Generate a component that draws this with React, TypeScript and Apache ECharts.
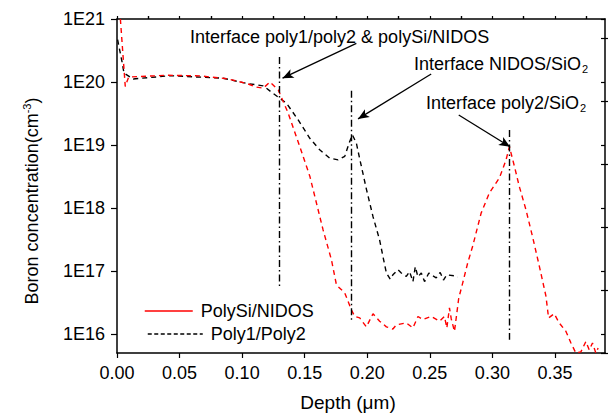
import React, { useEffect, useRef } from "react";
import * as echarts from "echarts";

// Depth (µm), boron concentration (cm^-3)
const polySiNidos: [number, number][] = [
  [0.0027, 1.0e21], [0.0066, 8.5e19], [0.0093, 1.2e20], [0.0399, 1.28e20], [0.0664, 1.25e20],
  [0.0877, 1.13e20], [0.1036, 9.5e19], [0.1116, 8.3e19], [0.1169, 8.0e19], [0.1222, 1.0e20],
  [0.1289, 7.5e19], [0.1368, 3.2e19], [0.1461, 9.4e18], [0.1541, 3.2e18], [0.1647, 4.5e17],
  [0.1714, 1.5e17], [0.1754, 6.0e16], [0.182, 4.5e16], [0.1874, 2.4e16], [0.19, 1.9e16],
  [0.194, 1.8e16], [0.1993, 1.3e16], [0.2046, 2.1e16], [0.2099, 1.6e16], [0.2153, 1.3e16],
  [0.2205, 1.2e16], [0.2232, 1.4e16], [0.2312, 1.5e16], [0.2365, 1.25e16], [0.2405, 1.9e16],
  [0.2444, 1.7e16], [0.2511, 1.9e16], [0.2578, 1.6e16], [0.2617, 1.9e16], [0.2636, 1.25e16],
  [0.2657, 2.6e16], [0.2671, 1.75e16], [0.2697, 1.1e16], [0.2731, 3.7e16], [0.2763, 6.5e16],
  [0.2803, 1.35e17], [0.2843, 2.5e17], [0.291, 8.3e17], [0.2976, 1.74e18], [0.3056, 3.0e18],
  [0.3109, 5.8e18], [0.3136, 9.4e18], [0.3176, 4.6e18], [0.3215, 2.2e18], [0.3269, 9.3e17],
  [0.3321, 3.5e17], [0.3375, 1.2e17], [0.3428, 4.0e16], [0.3449, 1.8e16], [0.3494, 2.1e16],
  [0.3534, 1.5e16], [0.3588, 1.1e16], [0.3628, 7.2e15], [0.3667, 5.0e15], [0.3707, 5.2e15],
  [0.3747, 7.6e15], [0.3774, 5.6e15], [0.38, 7.2e15], [0.3827, 5.0e15], [0.3845, 6.0e15],
];

const poly1Poly2: [number, number][] = [
  [0.0005, 4.7e20], [0.004, 2.1e20], [0.0056, 1.38e20], [0.013, 1.12e20], [0.0425, 1.26e20],
  [0.0848, 1.15e20], [0.1036, 9.5e19], [0.1169, 8.7e19], [0.1248, 6.6e19], [0.1355, 4.6e19],
  [0.1448, 2.5e19], [0.1541, 1.28e19], [0.162, 8.4e18], [0.17, 6.2e18], [0.1767, 5.8e18],
  [0.182, 6.6e18], [0.1855, 1.07e19], [0.1881, 1.45e19], [0.1913, 1.07e19], [0.194, 6.0e18],
  [0.1993, 2.0e18], [0.2046, 7.3e17], [0.2099, 3.1e17], [0.2131, 1.5e17], [0.2153, 9.3e16],
  [0.2184, 7.4e16], [0.2205, 8.7e16], [0.2245, 1.05e17], [0.2272, 9.3e16], [0.2312, 8.2e16],
  [0.2338, 9.8e16], [0.2365, 6.8e16], [0.2384, 1.17e17], [0.2405, 8.1e16], [0.2432, 9.3e16],
  [0.2458, 6.8e16], [0.2492, 9.3e16], [0.2511, 8.7e16], [0.2551, 7.8e16], [0.2583, 9.5e16],
  [0.2609, 7.2e16], [0.2636, 8.7e16], [0.2697, 8.4e16], [0.2723, 8.0e16],
];

const xMajorTicks = [0, 0.05, 0.1, 0.15, 0.2, 0.25, 0.3, 0.35];
const xMinorTicks = [0.025, 0.075, 0.125, 0.175, 0.225, 0.275, 0.325, 0.375];
const yMajorTicks = [1e16, 1e17, 1e18, 1e19, 1e20, 1e21];
const yMinorTicks = [5e15, 5e16, 5e17, 5e18, 5e19, 5e20];

// interface markers: depth, top, bottom
const interfaceLines: [number, number, number][] = [
  [0.13, 2.5e20, 5.7e16],
  [0.1874, 7.3e19, 1.58e16],
  [0.3136, 1.74e19, 8.1e15],
];
// arrows: from [x, y] to [x, y]
const arrows: [number, number, number, number][] = [
  [0.1913, 4.1e20, 0.1323, 1.15e20],
  [0.2511, 1.34e20, 0.1926, 2.6e19],
  [0.2731, 3.0e19, 0.3141, 9.4e18],
];

const FONT = "'Liberation Sans', Arial, sans-serif";
const X_MIN = 0, X_MAX = 0.39, Y_MIN = 5e15, Y_MAX = 1.001e21;

export default function App() {
  const ref = useRef<HTMLDivElement>(null);
  useEffect(() => {
    if (!ref.current) return;
    const chart = echarts.init(ref.current, undefined, { renderer: "svg" });
    const axisLine = { show: true, onZero: false, lineStyle: { color: "#000", width: 1.5 } };
    const noLine = { show: false, onZero: false };
    const tickStyle = { color: "#000", width: 1.2 };
    const option: any = {
      animation: false,
      backgroundColor: "#fff",
      grid: { left: 117, right: 4, top: 19, bottom: 60, containLabel: false },
      xAxis: [
        {
          type: "value", min: X_MIN, max: X_MAX, position: "bottom",
          axisLine, splitLine: { show: false },
          axisTick: { show: true, inside: false, length: 5, customValues: xMajorTicks, lineStyle: tickStyle },
          axisLabel: { customValues: xMajorTicks, formatter: (v: number) => v.toFixed(2), fontSize: 18, fontFamily: FONT, color: "#000", margin: 11 },
        },
        {
          type: "value", min: X_MIN, max: X_MAX, position: "top",
          axisLine, splitLine: { show: false },
          axisTick: { show: true, length: 3, customValues: [...xMajorTicks, ...xMinorTicks], lineStyle: tickStyle },
          axisLabel: { show: false },
        },
        {
          // requested "top": ECharts moves it to the free side, i.e. bottom (minor ticks)
          type: "value", min: X_MIN, max: X_MAX, position: "top",
          axisLine: noLine, splitLine: { show: false },
          axisTick: { show: true, length: 3, customValues: xMinorTicks, lineStyle: tickStyle },
          axisLabel: { show: false },
        },
      ],
      yAxis: [
        {
          type: "log", logBase: 10, min: Y_MIN, max: Y_MAX, position: "left",
          axisLine, splitLine: { show: false },
          axisTick: { show: true, length: 6, customValues: yMajorTicks, lineStyle: tickStyle },
          axisLabel: {
            customValues: yMajorTicks,
            formatter: (v: number) => "1E" + Math.round(Math.log10(v)),
            fontSize: 18, fontFamily: FONT, color: "#000", margin: 12,
          },
        },
        {
          type: "log", logBase: 10, min: Y_MIN, max: Y_MAX, position: "right",
          axisLine, splitLine: { show: false },
          axisTick: { show: true, inside: true, length: 4, customValues: [...yMajorTicks, ...yMinorTicks], lineStyle: tickStyle },
          axisLabel: { show: false },
        },
        {
          // requested "right": ECharts moves it to the free side, i.e. left (minor ticks)
          type: "log", logBase: 10, min: Y_MIN, max: Y_MAX, position: "right",
          axisLine: noLine, splitLine: { show: false },
          axisTick: { show: true, length: 3, customValues: yMinorTicks, lineStyle: tickStyle },
          axisLabel: { show: false },
        },
      ],
      legend: [
        {
          data: [{ name: "PolySi/NIDOS", lineStyle: { type: "solid", width: 1.5 }, itemStyle: { opacity: 0 } }],
          left: 139, top: 297, itemWidth: 48, itemHeight: 14,
          textStyle: { fontSize: 18, fontFamily: FONT, color: "#000", padding: [0, 0, 0, 3] },
        },
        {
          data: [{ name: "Poly1/Poly2", lineStyle: { type: [4, 2.5], width: 1.5 }, itemStyle: { opacity: 0 } }],
          left: 142, top: 320, itemWidth: 55, itemHeight: 14,
          textStyle: { fontSize: 18, fontFamily: FONT, color: "#000", padding: [0, 0, 0, 3] },
        },
      ],
      series: [
        {
          name: "PolySi/NIDOS", type: "line", xAxisIndex: 0, yAxisIndex: 0,
          data: polySiNidos, showSymbol: false, symbol: "none",
          lineStyle: { color: "#ff0000", width: 1.4, type: [5, 4] },
          itemStyle: { color: "#ff0000" },
          z: 3,
          markLine: {
            silent: true, animation: false,
            symbol: ["none", "arrow"], symbolSize: [7, 11],
            label: { show: false },
            lineStyle: { color: "#000", width: 1.3, type: "solid" },
            data: arrows.map(([x1, y1, x2, y2]) => [{ coord: [x1, y1] }, { coord: [x2, y2] }]),
          },
        },
        {
          name: "Poly1/Poly2", type: "line", xAxisIndex: 0, yAxisIndex: 0,
          data: poly1Poly2, showSymbol: false, symbol: "none",
          lineStyle: { color: "#000", width: 1.4, type: [5, 4] },
          itemStyle: { color: "#000" },
          z: 2,
          markLine: {
            silent: true, animation: false,
            symbol: ["none", "none"],
            label: { show: false },
            lineStyle: { color: "#000", width: 1.4, type: [7, 3, 1.5, 3] },
            data: interfaceLines.map(([x, top, bottom]) => [{ coord: [x, top] }, { coord: [x, bottom] }]),
          },
        },
      ],
      graphic: [
        {
          type: "text", left: 190, top: 28,
          style: { text: "Interface poly1/poly2 & polySi/NIDOS", fontSize: 18, fontFamily: FONT, fill: "#000" },
        },
        {
          type: "text", left: 414, top: 55,
          style: {
            text: "{a|Interface NIDOS/SiO}{s|2}", fontFamily: FONT, fill: "#000",
            rich: { a: { fontSize: 18, fontFamily: FONT }, s: { fontSize: 11, fontFamily: FONT, padding: [10, 0, 0, 1] } },
          },
        },
        {
          type: "text", left: 426, top: 94,
          style: {
            text: "{a|Interface poly2/SiO}{s|2}", fontFamily: FONT, fill: "#000",
            rich: { a: { fontSize: 18, fontFamily: FONT }, s: { fontSize: 11, fontFamily: FONT, padding: [10, 0, 0, 1] } },
          },
        },
        {
          type: "text", x: 348, y: 402,
          style: { text: "Depth (μm)", fontSize: 19, fontFamily: FONT, fill: "#000", align: "center", verticalAlign: "middle" },
        },
        {
          type: "text", x: 32, y: 201, rotation: Math.PI / 2,
          style: {
            text: "{a|Boron concentration(cm}{s|-3}{a|)}", fill: "#000", align: "center", verticalAlign: "middle",
            rich: { a: { fontSize: 18, fontFamily: FONT }, s: { fontSize: 11, fontFamily: FONT, padding: [0, 0, 10, 0] } },
          },
        },
      ],
    };
    chart.setOption(option);
    return () => chart.dispose();
  }, []);
  return <div ref={ref} style={{ position: "fixed", left: 0, top: 0, width: 609, height: 413 }} />;
}
